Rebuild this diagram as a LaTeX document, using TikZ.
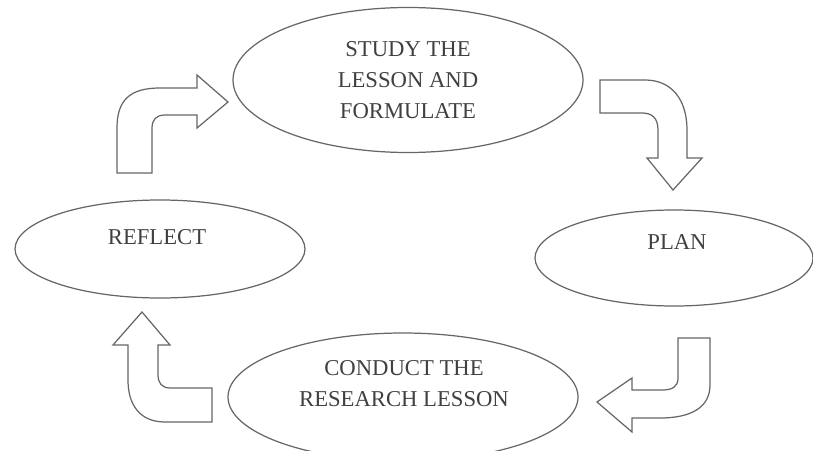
\documentclass[tikz,border=0pt]{standalone}
\usepackage{fontspec}
\setmainfont{Liberation Serif}
\usetikzlibrary{shapes.geometric}

\begin{document}
\begin{tikzpicture}[
        stage/.style={draw=black!60, line width=0.7pt, ellipse, inner sep=0pt},
        stagetext/.style={text=black!75, align=center, font=\fontsize{12.9}{17.6}\selectfont},
        bentarrow/.style={draw=black!60, line width=0.7pt, line join=miter, fill=white}
    ]
        \useasboundingbox (0,0) rectangle (16.26,9);
        \clip (0,0) rectangle (16.26,9);

        % Cycle stages
        \node[stage, minimum width=7cm, minimum height=2.9cm] (study) at (8.16,7.4) {};
        \node[stage, minimum width=5.56cm, minimum height=1.92cm] (plan) at (13.48,3.84) {};
        \node[stage, minimum width=7cm, minimum height=2.56cm] (conduct) at (8.06,1.06) {};
        \node[stage, minimum width=5.8cm, minimum height=1.96cm] (reflect) at (3.2,4.02) {};

        % Labels inside the stages
        \node[stagetext] (studytext) at (study.center) {STUDY THE\\LESSON AND\\FORMULATE};
        \node[stagetext] (plantext) at ([xshift=0.06cm, yshift=0.32cm]plan.center) {PLAN};
        \node[stagetext] (conducttext) at ([xshift=0.02cm, yshift=0.26cm]conduct.center) {CONDUCT THE\\RESEARCH LESSON};
        \node[stagetext] (reflecttext) at ([xshift=-0.06cm, yshift=0.24cm]reflect.center) {REFLECT};

        % Bent arrows between the stages
        \draw[bentarrow] (2.34,5.54) -- (2.34,6.44) .. controls (2.34,7.0) and (2.6,7.24) .. (3.2,7.24)
            -- (3.94,7.24) -- (3.94,7.5) -- (4.56,6.96) -- (3.94,6.44) -- (3.94,6.7) -- (3.3,6.7)
            .. controls (3.12,6.7) and (3.04,6.6) .. (3.04,6.44) -- (3.04,5.54) -- cycle;
        \draw[bentarrow] (12.0,7.4) -- (12.9,7.4) .. controls (13.44,7.4) and (13.74,7.0) .. (13.74,6.4)
            -- (13.74,5.84) -- (14.04,5.84) -- (13.46,5.2) -- (12.94,5.84) -- (13.16,5.84) -- (13.16,6.4)
            .. controls (13.16,6.64) and (13.04,6.74) .. (12.84,6.74) -- (12.0,6.74) -- cycle;
        \draw[bentarrow] (13.56,2.24) -- (14.2,2.24) -- (14.2,1.3) .. controls (14.2,0.84) and (13.8,0.64) .. (13.2,0.64)
            -- (12.64,0.64) -- (12.64,0.36) -- (11.94,0.96) -- (12.64,1.44) -- (12.64,1.2) -- (13.24,1.2)
            .. controls (13.44,1.2) and (13.56,1.26) .. (13.56,1.44) -- cycle;
        \draw[bentarrow] (4.24,1.24) -- (4.24,0.56) -- (3.3,0.56) .. controls (2.8,0.56) and (2.56,0.9) .. (2.56,1.4)
            -- (2.56,2.1) -- (2.26,2.1) -- (2.84,2.76) -- (3.4,2.1) -- (3.16,2.1) -- (3.16,1.5)
            .. controls (3.16,1.34) and (3.24,1.24) .. (3.4,1.24) -- cycle;
    \end{tikzpicture}
\end{document}
